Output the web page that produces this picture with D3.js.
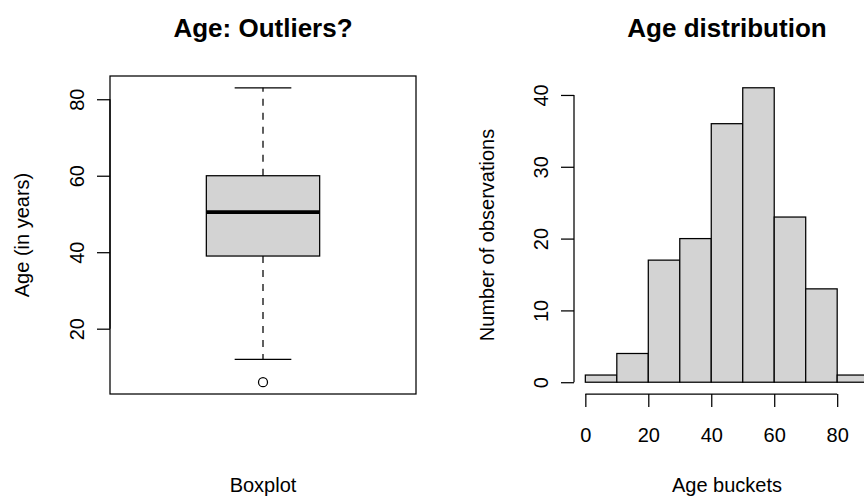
<!DOCTYPE html>
<html>

<head>
  <title>Age</title>
  <style type="text/css">
    body {
      margin: 0;
      background: #fff;
    }

    svg text {
      font-family: "Liberation Sans", Arial, Helvetica, sans-serif;
      fill: #000;
    }
  </style>
</head>

<body>
  <div id="chart"></div>
  <script type="text/javascript" src="https://cdn.jsdelivr.net/npm/d3@7"></script>
  <script type="text/javascript">
    // boxplot: lower whisker, Q1, median, Q3, upper whisker
    var boxStats = [12, 39, 50.5, 60, 83];
    var boxOutliers = [6];
    var ageTicks = [20, 40, 60, 80];

    // histogram
    var bucketEdges = [0, 10, 20, 30, 40, 50, 60, 70, 80, 90];
    var bucketCounts = [1, 4, 17, 20, 36, 41, 23, 13, 1];
    var countTicks = [0, 10, 20, 30, 40];
    var bucketTicks = [0, 20, 40, 60, 80];

    var w = 864,
      h = 498,
      lw = 1.25,
      plotTop = 76,
      plotBottom = 394,
      fill = "#d3d3d3";

    var svg = d3.select("#chart").append("svg")
      .attr("width", w)
      .attr("height", h);

    function yAxis(g, scale, ticks) {
      g.call(d3.axisLeft(scale).tickValues(ticks).tickSize(13).tickSizeOuter(0));
      g.select(".domain").remove();
      g.selectAll(".tick line").attr("stroke", "#000").attr("stroke-width", lw);
      g.selectAll(".tick text")
        .attr("x", null).attr("dy", null)
        .attr("transform", "translate(-26,0) rotate(-90)")
        .attr("text-anchor", "middle")
        .style("font-size", "20px");
      g.append("line")
        .attr("y1", scale(ticks[0])).attr("y2", scale(ticks[ticks.length - 1]))
        .attr("stroke", "#000").attr("stroke-width", lw);
    }

    // ---------- left: boxplot ----------
    var bx = d3.scaleLinear().domain([0.46, 1.54]).range([110, 416]);
    var by = d3.scaleLinear().domain([2.92, 86.08]).range([plotBottom, plotTop]);
    var gBox = svg.append("g");

    gBox.append("line")
      .attr("x1", bx(1)).attr("x2", bx(1))
      .attr("y1", by(boxStats[3])).attr("y2", by(boxStats[4]))
      .attr("stroke", "#000").attr("stroke-width", lw).attr("stroke-dasharray", "7,7");
    gBox.append("line")
      .attr("x1", bx(1)).attr("x2", bx(1))
      .attr("y1", by(boxStats[1])).attr("y2", by(boxStats[0]))
      .attr("stroke", "#000").attr("stroke-width", lw).attr("stroke-dasharray", "7,7");

    gBox.selectAll(".cap")
      .data([boxStats[0], boxStats[4]])
      .enter().append("line")
      .attr("x1", bx(0.9)).attr("x2", bx(1.1))
      .attr("y1", by).attr("y2", by)
      .attr("stroke", "#000").attr("stroke-width", lw);

    gBox.append("rect")
      .attr("x", bx(0.8)).attr("width", bx(1.2) - bx(0.8))
      .attr("y", by(boxStats[3])).attr("height", by(boxStats[1]) - by(boxStats[3]))
      .attr("fill", fill).attr("stroke", "#000").attr("stroke-width", lw);

    gBox.append("line")
      .attr("x1", bx(0.8)).attr("x2", bx(1.2))
      .attr("y1", by(boxStats[2])).attr("y2", by(boxStats[2]))
      .attr("stroke", "#000").attr("stroke-width", 3.75);

    gBox.selectAll("circle")
      .data(boxOutliers)
      .enter().append("circle")
      .attr("cx", bx(1)).attr("cy", by).attr("r", 4.5)
      .attr("fill", "none").attr("stroke", "#000").attr("stroke-width", lw);

    gBox.append("rect")
      .attr("x", 110).attr("y", plotTop).attr("width", 306).attr("height", plotBottom - plotTop)
      .attr("fill", "none").attr("stroke", "#000").attr("stroke-width", lw);

    gBox.append("g").attr("transform", "translate(110,0)").call(yAxis, by, ageTicks);

    gBox.append("text")
      .attr("x", 263).attr("y", 37)
      .attr("text-anchor", "middle")
      .style("font-size", "26px").style("font-weight", "bold")
      .text("Age: Outliers?");
    gBox.append("text")
      .attr("x", 263).attr("y", 492)
      .attr("text-anchor", "middle")
      .style("font-size", "20px")
      .text("Boxplot");
    gBox.append("text")
      .attr("transform", "translate(29,235) rotate(-90)")
      .attr("text-anchor", "middle")
      .style("font-size", "20px")
      .text("Age (in years)");

    // ---------- right: histogram ----------
    var hx = d3.scaleLinear().domain([-3.6, 93.6]).range([574, 880]);
    var hy = d3.scaleLinear().domain([-1.64, 42.64]).range([plotBottom, plotTop]);
    var gHist = svg.append("g");

    gHist.selectAll("rect")
      .data(bucketCounts)
      .enter().append("rect")
      .attr("x", function (d, i) { return hx(bucketEdges[i]); })
      .attr("width", function (d, i) { return hx(bucketEdges[i + 1]) - hx(bucketEdges[i]); })
      .attr("y", function (d) { return hy(d); })
      .attr("height", function (d) { return hy(0) - hy(d); })
      .attr("fill", fill).attr("stroke", "#000").attr("stroke-width", lw);

    gHist.append("g").attr("transform", "translate(574,0)").call(yAxis, hy, countTicks);

    var xg = gHist.append("g").attr("transform", "translate(0," + plotBottom + ")")
      .call(d3.axisBottom(hx).tickValues(bucketTicks).tickSize(13).tickSizeOuter(0));
    xg.select(".domain").remove();
    xg.selectAll(".tick line").attr("stroke", "#000").attr("stroke-width", lw);
    xg.selectAll(".tick text").attr("y", 48).attr("dy", null).style("font-size", "20px");
    xg.append("line")
      .attr("x1", hx(bucketTicks[0])).attr("x2", hx(bucketTicks[bucketTicks.length - 1]))
      .attr("stroke", "#000").attr("stroke-width", lw);

    gHist.append("text")
      .attr("x", 727).attr("y", 37)
      .attr("text-anchor", "middle")
      .style("font-size", "26px").style("font-weight", "bold")
      .text("Age distribution");
    gHist.append("text")
      .attr("x", 727).attr("y", 492)
      .attr("text-anchor", "middle")
      .style("font-size", "20px")
      .text("Age buckets");
    gHist.append("text")
      .attr("transform", "translate(494,235) rotate(-90)")
      .attr("text-anchor", "middle")
      .style("font-size", "20px")
      .text("Number of observations");
  </script>
</body>

</html>
